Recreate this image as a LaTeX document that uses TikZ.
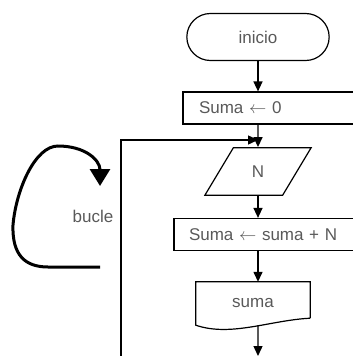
\documentclass[tikz,border=0pt]{standalone}
\usepackage{fontspec}
\setmainfont{Liberation Sans}
\usepackage{tikz}
\usetikzlibrary{shapes.geometric, shapes.misc}
\usetikzlibrary{arrows.meta, calc}

\begin{document}
\begin{tikzpicture}[x=1pt, y=-1pt,
    every node/.style={font=\fontsize{17}{20}\selectfont, text=black!65},
    caja/.style={rectangle, draw=black, line width=1.2pt, minimum height=32pt, inner xsep=16pt, align=left},
    flujo/.style={line width=1.4pt, -{Triangle[length=10pt, width=9pt]}}]
    \useasboundingbox (0,0) rectangle (353,356);
    \clip (0,0) rectangle (353,356);

    % Nodes
    \node[rounded rectangle, draw=black, line width=1.2pt, minimum width=149pt, minimum height=47pt] (inicio) at (258,37) {inicio};
    \node[caja, text width=145pt] (suma0) at (271.5,108) {Suma $\leftarrow$ 0};
    \node[trapezium, trapezium left angle=59, trapezium right angle=121, draw=black, line width=1.2pt,
          minimum width=107pt, minimum height=33pt] (lectura) at (258,171.5) {N};
    \node[caja, text width=158pt, inner xsep=15pt] (calculo) at (268,234.5) {Suma $\leftarrow$ suma + N};
    \node[minimum width=114pt, minimum height=43pt] (salida) at (253,303.5) {suma};
    \node (bucle) at (93,216) {bucle};

    % document shape with the wavy bottom
    \coordinate (salida-fin) at ($(salida.south east)+(0,-7)$);
    \draw[line width=1.2pt] (salida-fin) -- (salida.north east) -- (salida.north west) -- (salida.south west)
        .. controls +(35,12) and +(-40,2) .. (salida-fin);

    % Edges
    \coordinate (abajo) at (258,356);
    \coordinate (retorno) at (121,356);
    \coordinate (union) at (258,140);
    \draw[flujo] (inicio.south) -- (inicio.south |- suma0.north);
    \draw[flujo] (inicio.south |- suma0.south) -- (lectura.north);
    \draw[flujo] (lectura.south) -- (lectura.south |- calculo.north);
    \draw[flujo] (lectura.south |- calculo.south) -- (lectura.south |- salida.north);
    \draw[flujo] (lectura.south |- salida.south) -- (abajo);
    \draw[flujo] (retorno) |- (union);

    % hand drawn loop arrow
    \draw[line width=3pt, -{Triangle[length=17pt, width=20pt]}] (100,267) -- (48,267)
        .. controls (25,267) and (12,255) .. (13,225)
        .. controls (16,190) and (35,146) .. (58,146)
        .. controls (85,146) and (100,160) .. (100,186);
\end{tikzpicture}
\end{document}
